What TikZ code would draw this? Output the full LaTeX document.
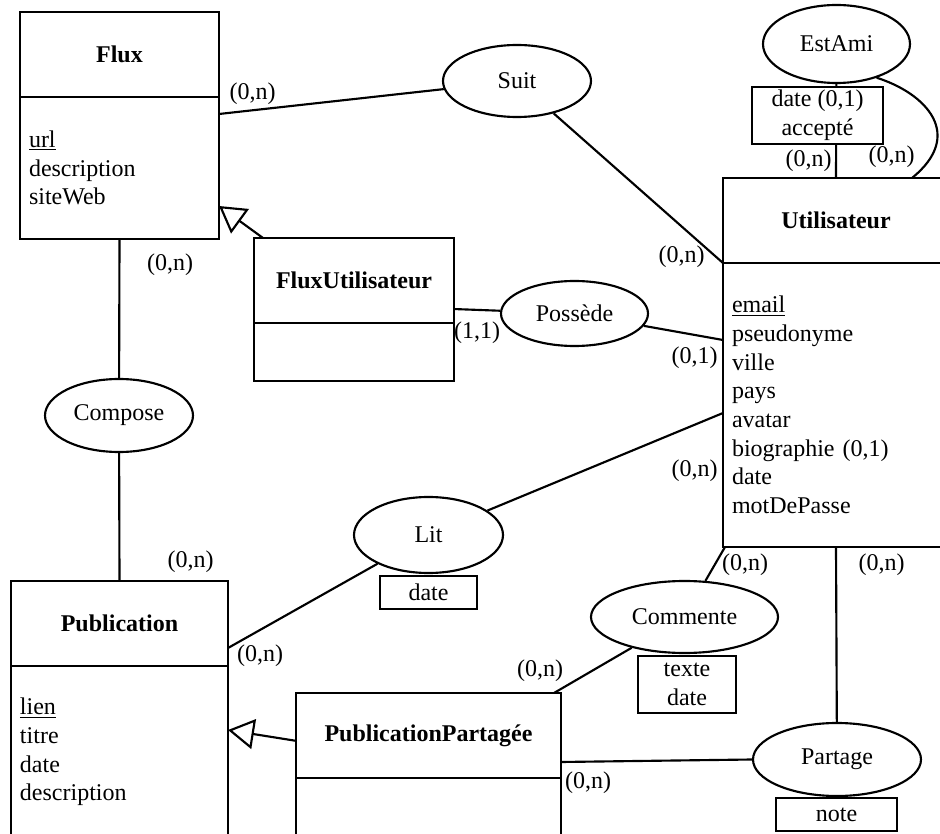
\documentclass[tikz,border=0pt]{standalone}
\usepackage{fontspec}
\setmainfont{Liberation Serif}
\usetikzlibrary{positioning,shapes.geometric,arrows.meta}

\tikzset{
	trait/.style={line width=1.6pt},
	titre/.style={draw, trait, font=\fontsize{18}{21.5}\selectfont\bfseries, minimum height=63.75pt, inner sep=0pt, outer sep=0pt},
	attributs/.style={draw, trait, font=\fontsize{18}{21.5}\selectfont, inner xsep=6.75pt, inner ysep=0pt, outer sep=0pt, align=left},
	relation/.style={draw, trait, ellipse, font=\fontsize{18}{21.5}\selectfont, inner sep=0pt},
	proprietes/.style={draw, trait, fill=white, font=\fontsize{18}{21.5}\selectfont, inner sep=0pt, align=center},
	card/.style={font=\fontsize{18}{21.5}\selectfont, inner sep=0pt},
	lien/.style={trait},
	herite/.style={trait, -{Triangle[open, length=19.5pt, width=22.5pt]}}}

\begin{document}
\begin{tikzpicture}[x=0.75pt,y=0.75pt,yscale=-1,xscale=1]
	\useasboundingbox (0,0) rectangle (940,834);
	\clip (0,0) rectangle (940,834);

	%Entity: Flux
	\node[titre, minimum width=149.25pt] (fluxtitre) at (119.5,54.5) {Flux};
	\node[attributs, text width=135.75pt, minimum height=106.5pt, below=0pt of fluxtitre] (fluxattr) {\underline{url}\\description\\siteWeb};
	%Entity: FluxUtilisateur
	\node[titre, minimum width=150pt] (futitre) at (354,280.5) {FluxUtilisateur};
	\node[attributs, text width=136.5pt, minimum height=43.5pt, below=0pt of futitre] (fuattr) {};
	%Entity: Utilisateur
	\node[titre, minimum width=169.5pt] (utiltitre) at (836,220.5) {Utilisateur};
	\node[attributs, text width=156pt, minimum height=213pt, below=0pt of utiltitre] (utilattr) {\underline{email}\\pseudonyme\\ville\\pays\\avatar\\biographie (0,1)\\date\\motDePasse};
	%Entity: Publication
	\node[titre, minimum width=162.75pt] (pubtitre) at (119.5,623.5) {Publication};
	\node[attributs, text width=149.25pt, minimum height=129pt, below=0pt of pubtitre] (pubattr) {\underline{lien}\\titre\\date\\description};
	%Entity: PublicationPartagée
	\node[titre, minimum width=198.75pt] (pptitre) at (428.5,735.5) {PublicationPartagée};
	\node[attributs, text width=185.25pt, minimum height=69pt, below=0pt of pptitre] (ppattr) {};

	%Relations
	\node[relation, minimum width=111pt, minimum height=54pt] (suit) at (517,81) {Suit};
	\node[relation, minimum width=110.25pt, minimum height=58.5pt] (estami) at (836.5,44) {EstAmi};
	\node[relation, minimum width=110.25pt, minimum height=48.75pt] (possede) at (574.5,313.5) {Possède};
	\node[relation, minimum width=111pt, minimum height=54.75pt] (compose) at (119,415.5) {Compose};
	\node[relation, minimum width=111.75pt, minimum height=57pt] (lit) at (428.5,535) {Lit};
	\node[relation, minimum width=140.25pt, minimum height=54pt] (commente) at (684.5,617) {Commente};
	\node[relation, minimum width=126pt, minimum height=54.75pt] (partage) at (837,759.5) {Partage};

	%Links
	\draw[lien] ([yshift=12.75pt]fluxattr.north east) -- (suit);
	\draw[lien] (suit) -- (utiltitre.south west);
	\draw[lien] (estami) -- (utiltitre.north);
	\draw[lien] (estami.-40) .. controls +(50,16) and +(53,-43) .. ([xshift=57pt]utiltitre.north);
	\draw[lien] (fluxattr.south) -- (compose);
	\draw[lien] (compose) -- (pubtitre.north);
	\draw[lien] ([yshift=21.4pt]futitre.east) -- (possede);
	\draw[lien] (possede) -- ([yshift=57.75pt]utilattr.north west);
	\draw[lien] (lit) -- ([yshift=112.5pt]utilattr.north west);
	\draw[lien] (lit) -- ([yshift=-13.5pt]pubtitre.south east);
	\draw[lien] (commente) -- ([xshift=1.5pt]utilattr.south west);
	\draw[lien] (commente) -- ([xshift=-5.25pt]pptitre.north east);
	\draw[lien] (utilattr.south) -- (partage);
	\draw[lien] ([yshift=-12pt]pptitre.south east) -- (partage.west);
	%Inheritance
	\draw[herite] ([xshift=6.75pt]futitre.north west) -- ([yshift=-24.75pt]fluxattr.south east);
	\draw[herite] ([yshift=4pt]pptitre.west) -- ([yshift=-16.5pt]pubattr.east);

	%Relation attributes
	\node[proprietes, minimum width=98.25pt, minimum height=42.75pt] (estamiprop) at (817.5,115.5) {date (0,1)\\accepté};
	\node[proprietes, minimum width=72.75pt, minimum height=24.75pt] (litprop) at (428.5,592.5) {date};
	\node[proprietes, minimum width=73.5pt, minimum height=42.75pt] (commenteprop) at (687,684.5) {texte\\date};
	\node[proprietes, minimum width=90.75pt, minimum height=24.75pt] (partageprop) at (836.5,814.5) {note};

	%Cardinalities
	\node[card] (cSuitFlux) at (252.5,94) {(0,n)};
	\node[card] (cSuitUtil) at (681.5,257) {(0,n)};
	\node[card] (cAmiA) at (808.5,161) {(0,n)};
	\node[card] (cAmiB) at (891.5,157) {(0,n)};
	\node[card] (cComposeFlux) at (170,265) {(0,n)};
	\node[card] (cComposePub) at (190.5,562) {(0,n)};
	\node[card] (cPossedeFu) at (477,333) {(1,1)};
	\node[card] (cPossedeUtil) at (694.5,358) {(0,1)};
	\node[card] (cLitUtil) at (694.5,471) {(0,n)};
	\node[card] (cLitPub) at (260,656) {(0,n)};
	\node[card] (cCommenteUtil) at (745,565) {(0,n)};
	\node[card] (cCommentePp) at (540,671) {(0,n)};
	\node[card] (cPartageUtil) at (881.5,565) {(0,n)};
	\node[card] (cPartagePp) at (588,783) {(0,n)};

\end{tikzpicture}
\end{document}
